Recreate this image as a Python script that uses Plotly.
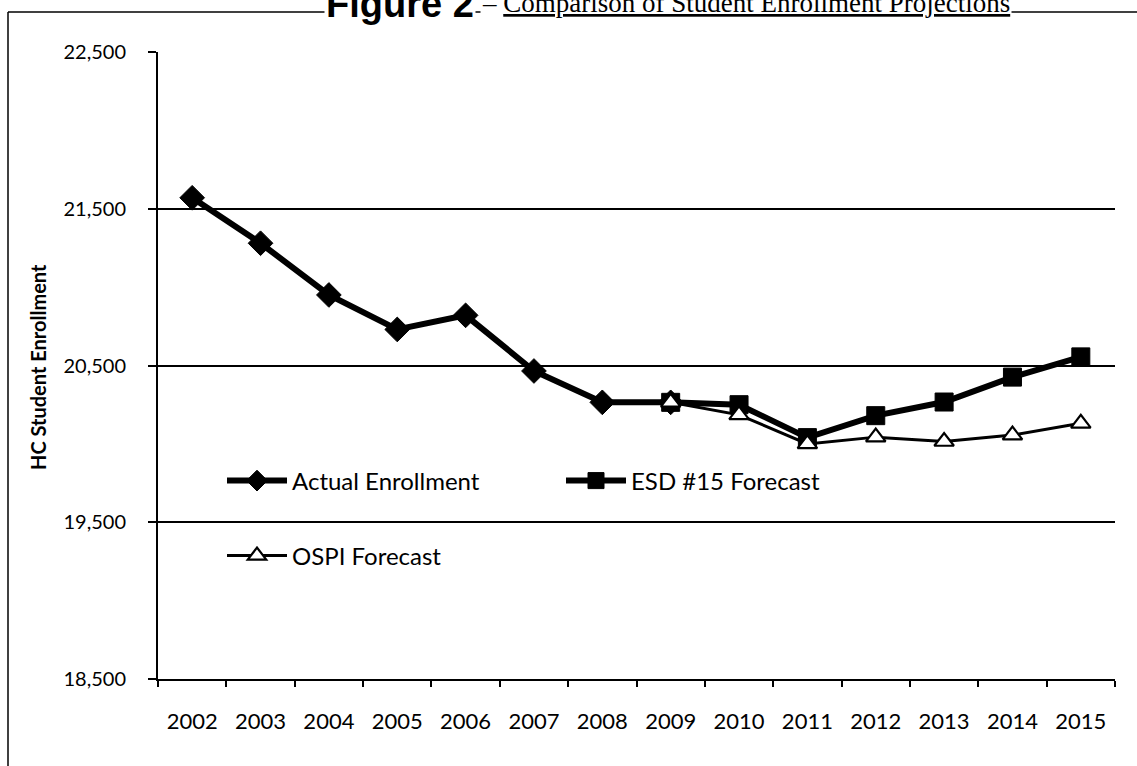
import plotly.graph_objects as go

# Enrollment series (headcount)
years = ["2002", "2003", "2004", "2005", "2006", "2007", "2008",
         "2009", "2010", "2011", "2012", "2013", "2014", "2015"]
actual_years = years[:8]
actual = [21570, 21280, 20950, 20730, 20820, 20465, 20265, 20265]
forecast_years = years[7:]
esd15 = [20265, 20250, 20040, 20180, 20267, 20426, 20555]
ospi = [20265, 20185, 20000, 20043, 20015, 20056, 20131]

y_ticks = [18500, 19500, 20500, 21500, 22500]
y_tick_text = ["18,500", "19,500", "20,500", "21,500", "22,500"]

W, H = 1137, 766
L, R, T, B = 158, 22, 52, 87
pw, ph = W - L - R, H - T - B


def px_x(px):
    return (px - L) / pw


def px_y(py):
    return (H - B - py) / ph


FONT = "Lato"

fig = go.Figure()

fig.add_trace(go.Scatter(
    x=actual_years, y=actual, name="Actual Enrollment", mode="lines+markers",
    line=dict(color="black", width=6),
    marker=dict(symbol="diamond", size=19, color="black",
                line=dict(color="black", width=1)),
    legend="legend",
))
fig.add_trace(go.Scatter(
    x=forecast_years, y=esd15, name="ESD #15 Forecast", mode="lines+markers",
    line=dict(color="black", width=6),
    marker=dict(symbol="square", size=18, color="black",
                line=dict(color="black", width=1)),
    legend="legend",
))
fig.add_trace(go.Scatter(
    x=forecast_years, y=ospi, name="OSPI Forecast", mode="lines+markers",
    line=dict(color="black", width=3),
    marker=dict(symbol="triangle-up", size=17, color="white",
                line=dict(color="black", width=2.2)),
    legend="legend2",
))

# Outer frame of the figure panel
fig.add_shape(type="line", xref="paper", yref="paper",
              x0=px_x(8), x1=px_x(8), y0=px_y(12), y1=px_y(800),
              line=dict(color="black", width=1.5))
fig.add_shape(type="line", xref="paper", yref="paper",
              x0=px_x(8), x1=px_x(1200), y0=px_y(12), y1=px_y(12),
              line=dict(color="black", width=1.5))

# Figure caption along the top edge
fig.add_annotation(
    xref="paper", yref="paper", x=px_x(476), y=px_y(27),
    xanchor="right", yanchor="bottom", showarrow=False,
    text="<b>Figure 2</b>", bgcolor="white",
    font=dict(family="Liberation Sans", size=38, color="black"),
)
fig.add_annotation(
    xref="paper", yref="paper", x=px_x(480), y=px_y(20),
    xanchor="left", yanchor="bottom", showarrow=False,
    text="– <u>Comparison of Student Enrollment Projections</u>",
    bgcolor="white",
    font=dict(family="Liberation Serif", size=27, color="black"),
)

# Vertical axis caption
fig.add_annotation(
    xref="paper", yref="paper", x=px_x(38), y=px_y(367),
    xanchor="center", yanchor="middle", showarrow=False, textangle=-90,
    text="<b>HC Student Enrollment</b>",
    font=dict(family=FONT, size=20, color="black"),
)

fig.update_layout(
    width=W, height=H,
    margin=dict(l=L, r=R, t=T, b=B),
    paper_bgcolor="white", plot_bgcolor="white",
    font=dict(family=FONT, size=20, color="black"),
    legend=dict(
        orientation="h", x=px_x(222), y=px_y(481),
        xanchor="left", yanchor="middle",
        entrywidth=264, itemwidth=60, bgcolor="rgba(0,0,0,0)",
        font=dict(family=FONT, size=24, color="black"),
        itemsizing="trace",
    ),
    legend2=dict(
        orientation="h", x=px_x(222), y=px_y(556),
        xanchor="left", yanchor="middle", itemwidth=60,
        bgcolor="rgba(0,0,0,0)",
        font=dict(family=FONT, size=24, color="black"),
        itemsizing="trace",
    ),
    xaxis=dict(
        type="category", categoryorder="array", categoryarray=years,
        range=[-0.5, len(years) - 0.5],
        showgrid=False, showline=True, linecolor="black", linewidth=2,
        ticks="outside", tickson="boundaries", ticklen=6,
        tickcolor="black", tickwidth=1.5,
        tickfont=dict(family=FONT, size=22, color="black"),
        ticklabelstandoff=22,
    ),
    yaxis=dict(
        range=[18500, 22500], tickvals=y_ticks, ticktext=y_tick_text,
        showgrid=True, gridcolor="black", gridwidth=2,
        showline=True, linecolor="black", linewidth=2,
        ticks="outside", ticklen=8, tickcolor="black", tickwidth=1.5,
        tickfont=dict(family=FONT, size=20, color="black"),
        ticklabelstandoff=18,
        zeroline=False,
    ),
)

fig.write_html("out.html")
